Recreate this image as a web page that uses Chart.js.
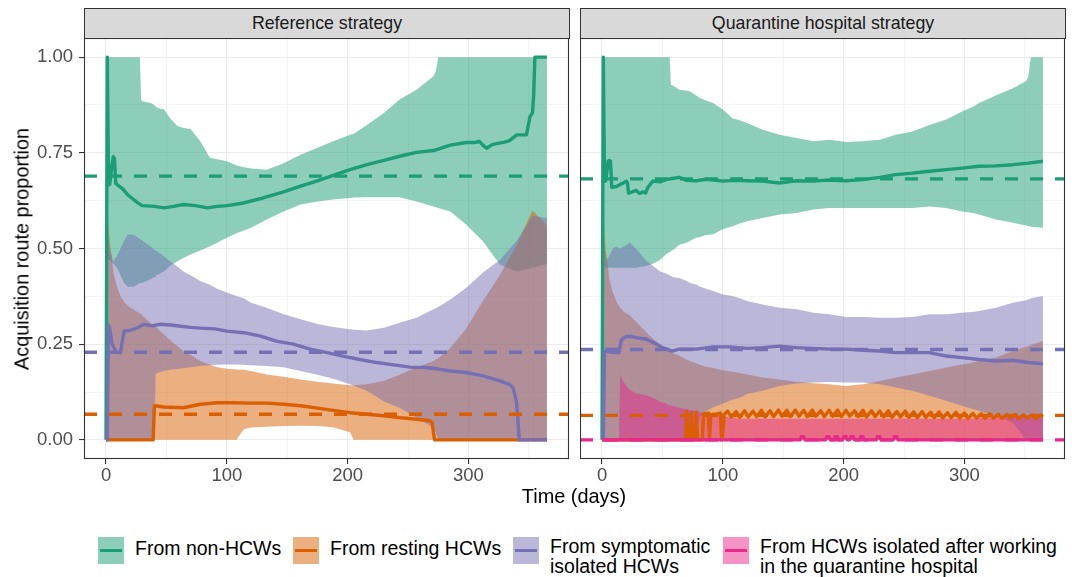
<!DOCTYPE html>
<html>
<head>
<meta charset="utf-8">
<script src="https://cdn.jsdelivr.net/npm/chart.js@4.4.1/dist/chart.umd.min.js"></script>
<style>
  body { margin: 0; background: #fff; font-family: "Liberation Sans", Arial, sans-serif; }
  #wrap { position: relative; width: 1076px; height: 577px; overflow: hidden; }
  canvas { position: absolute; }
  .strip { position: absolute; top: 8px; height: 31px; width: 486px; background: #d9d9d9; border: 1.1px solid #333;
           box-sizing: border-box; text-align: center; font-size: 17.8px; line-height: 28px; color: #1a1a1a; }
  .ttl { position: absolute; font-size: 19.9px; color: #000; white-space: nowrap; }
  .key { position: absolute; top: 537px; width: 26px; height: 27px; }
  .key i { position: absolute; left: 2px; right: 2px; top: 12px; height: 3px; }
  .lab { position: absolute; font-size: 19.5px; line-height: 20px; color: #000; white-space: nowrap; }
</style>
</head>
<body>
<div id="wrap">
  <div class="strip" style="left:84px">Reference strategy</div>
  <div class="strip" style="left:580px">Quarantine hospital strategy</div>
  <canvas id="refChart" width="570" height="460" style="left:0;top:38px"></canvas>
  <canvas id="qhChart" width="486" height="460" style="left:580px;top:38px"></canvas>
  <div class="ttl" style="left:22px;top:249px;transform:translate(-50%,-50%) rotate(-90deg)">Acquisition route proportion</div>
  <div class="ttl" style="left:574px;top:496px;transform:translate(-50%,-50%)">Time (days)</div>

  <div class="key" style="left:98px;background:rgba(27,158,119,0.5)"><i style="background:#1B9E77"></i></div>
  <div class="lab" style="left:135px;top:538px">From non-HCWs</div>
  <div class="key" style="left:293px;background:rgba(217,95,2,0.5)"><i style="background:#D95F02"></i></div>
  <div class="lab" style="left:330px;top:538px">From resting HCWs</div>
  <div class="key" style="left:513px;background:rgba(117,112,179,0.5)"><i style="background:#7570B3"></i></div>
  <div class="lab" style="left:550px;top:536px">From symptomatic<br>isolated HCWs</div>
  <div class="key" style="left:723px;background:rgba(231,41,138,0.5)"><i style="background:#E7298A"></i></div>
  <div class="lab" style="left:760px;top:536px">From HCWs isolated after working<br>in the quarantine hospital</div>
</div>

<script>
// ---- axes ----
const xMajor = [0, 100, 200, 300];
const xGrid = [0, 50, 100, 150, 200, 250, 300, 350];
const yMajor = [0, 0.25, 0.5, 0.75, 1];
const yGrid = [0, 0.125, 0.25, 0.375, 0.5, 0.625, 0.75, 0.875, 1];
const X_MIN = -18.25, X_MAX = 383.25;

// ---- Reference strategy: ribbons (2.5% / 97.5%) ----
const refBandDays = [1, 3, 6, 9, 12,   15, 18, 23, 28, 29,   30, 37, 40, 41, 42,   48, 53, 59, 64, 70,
                     78, 86, 92, 100, 108,   114, 120, 133, 147, 161,   175, 188, 202, 205, 216,
                     230, 243, 257, 271, 273,   275, 285, 298, 312, 326,   340, 353, 365];
const refNonHi = [1, 1, 1, 1, 1,   1, 1, 1, 1, 0.89,   0.885, 0.88, 0.875, 0.872, 0.868,   0.863, 0.84, 0.82, 0.815, 0.812,
                  0.78, 0.737, 0.733, 0.728, 0.717,   0.712, 0.709, 0.706, 0.723, 0.745,   0.763, 0.78, 0.797, 0.8, 0.823,
                  0.854, 0.889, 0.915, 0.95, 0.963,   1, 1, 1, 1, 1,   1, 1, 1];
const refNonLo = [0.47, 0.47, 0.46, 0.45, 0.43,   0.41, 0.40, 0.40, 0.41, 0.41,   0.41, 0.42, 0.425, 0.427, 0.43,   0.44, 0.455, 0.467, 0.475, 0.484,
                  0.495, 0.506, 0.515, 0.528, 0.54,   0.547, 0.554, 0.576, 0.597, 0.615,   0.623, 0.628, 0.632, 0.633, 0.634,
                  0.634, 0.634, 0.623, 0.61, 0.608,   0.606, 0.597, 0.563, 0.519, 0.458,   0.44, 0.45, 0.46];
const refRestHi = [0.6, 0.52, 0.44, 0.40, 0.375,   0.36, 0.35, 0.34, 0.33, 0.328,   0.325, 0.305, 0.298, 0.296, 0.293,   0.275, 0.26, 0.245, 0.232, 0.222,
                   0.206, 0.196, 0.19, 0.186, 0.184,   0.183, 0.18, 0.171, 0.165, 0.158,   0.152, 0.147, 0.143, 0.143, 0.145,
                   0.154, 0.17, 0.19, 0.206, 0.21,   0.213, 0.24, 0.29, 0.363, 0.43,   0.51, 0.6, 0.56];
const refRestLo = [0, 0, 0, 0, 0,   0, 0, 0, 0, 0,   0, 0, 0, 0, 0,   0, 0, 0, 0, 0,
                   0, 0, 0, 0, 0,   0.028, 0.032, 0.034, 0.036, 0.037,   0.036, 0.033, 0.02, 0, 0,
                   0, 0, 0, 0, 0,   0, 0, 0, 0, 0,   0, 0, 0];
const refSympHi = [0.55, 0.50, 0.467, 0.48, 0.50,   0.52, 0.537, 0.535, 0.525, 0.523,   0.52, 0.505, 0.497, 0.495, 0.493,   0.48, 0.467, 0.453, 0.44, 0.43,
                   0.415, 0.405, 0.395, 0.385, 0.376,   0.37, 0.358, 0.345, 0.328, 0.315,   0.303, 0.295, 0.289, 0.288, 0.286,
                   0.293, 0.306, 0.319, 0.341, 0.344,   0.347, 0.367, 0.397, 0.437, 0.47,   0.52, 0.585, 0.58];
const refSympLo = [0, 0, 0, 0, 0,   0, 0, 0, 0, 0,   0, 0, 0, 0.17, 0.175,   0.18, 0.183, 0.185, 0.187, 0.19,
                   0.193, 0.195, 0.196, 0.197, 0.197,   0.196, 0.195, 0.193, 0.19, 0.18,   0.17, 0.16, 0.145, 0.142, 0.128,
                   0.10, 0.084, 0.058, 0.032, 0.02,   0, 0, 0, 0, 0,   0, 0, 0];

// ---- Reference strategy: medians ----
const refNonDays = [0, 1, 2, 3, 5,   6, 7, 8, 10, 14,   18, 22, 26, 30, 40,   48, 56, 64, 74, 84,   92, 100, 114, 130, 147,
                    161, 175, 188, 202, 216,   230, 243, 257, 271, 285,   298, 306, 309, 312, 315,   320, 330, 334, 340, 348,   351, 353, 354, 355, 365];
const refNonLine = [0, 1, 0.70, 0.667, 0.72,   0.74, 0.735, 0.67, 0.665, 0.655,   0.64, 0.63, 0.62, 0.612, 0.61,   0.606, 0.61, 0.615, 0.612, 0.606,
                    0.61, 0.612, 0.619, 0.632, 0.648,   0.663, 0.677, 0.691, 0.706, 0.719,   0.73, 0.741, 0.751, 0.756, 0.77,
                    0.777, 0.777, 0.78, 0.77, 0.762,   0.772, 0.778, 0.782, 0.797, 0.797,   0.845, 0.854, 0.9, 1, 1];
const refRestDays = [0, 39, 40, 41, 48,   64, 78, 92, 106, 120,   133, 147, 161, 175, 188,   202, 216, 230, 243, 257,   268, 270, 271, 272, 365];
const refRestLine = [0, 0, 0.088, 0.089, 0.086,   0.084, 0.093, 0.097, 0.097, 0.096,   0.096, 0.093, 0.089, 0.083, 0.077,
                     0.071, 0.067, 0.063, 0.058, 0.054,   0.05, 0.045, 0.02, 0, 0];
const refSympDays = [0, 1, 2, 3, 5,   8, 10, 12, 13, 15,   20, 26, 31, 38, 45,   53, 62, 70, 78, 90,   100, 114, 128, 141, 155,
                     169, 183, 196, 210, 224,   238, 252, 265, 275, 285,   298, 312, 326, 334, 337,   339, 340, 341, 342, 365];
const refSympLine = [0, 0, 0.30, 0.29, 0.25,   0.232, 0.228, 0.228, 0.25, 0.284,   0.286, 0.293, 0.302, 0.298, 0.302,
                     0.30, 0.297, 0.294, 0.292, 0.29,   0.284, 0.28, 0.271, 0.258, 0.25,   0.237, 0.228, 0.219, 0.21, 0.202,
                     0.196, 0.19, 0.189, 0.185, 0.18,   0.176, 0.167, 0.154, 0.145, 0.135,   0.11, 0.093, 0.05, 0, 0];
const refOverall = { non: 0.689, symp: 0.229, rest: 0.067 };

// ---- Quarantine hospital strategy: ribbons ----
const qhBandDays = [1, 3, 6, 9, 12,   14, 15, 18, 23, 28,   37, 42, 48, 53, 56,   57, 59, 64, 70, 73,
                    78, 81, 86, 92, 100,   108, 114, 120, 133, 147,   161, 175, 188, 202, 216,
                    230, 243, 257, 271, 285,   298, 308, 312, 326, 340,   351, 353, 354, 355, 365];
const qhNonHi = [1, 1, 1, 1, 1,   1, 1, 1, 1, 1,   1, 1, 1, 1, 1,   0.928, 0.925, 0.915, 0.912, 0.91,
                 0.9, 0.893, 0.887, 0.88, 0.863,   0.84, 0.835, 0.828, 0.81, 0.797,   0.789, 0.78, 0.784, 0.778, 0.78,
                 0.784, 0.797, 0.806, 0.823, 0.837,   0.858, 0.872, 0.88, 0.9, 0.919,   0.937, 0.95, 0.98, 1, 1];
const qhNonLo = [0.46, 0.45, 0.45, 0.45, 0.45,   0.45, 0.45, 0.45, 0.45, 0.45,   0.455, 0.46, 0.47, 0.485, 0.49,   0.493, 0.497, 0.51, 0.515, 0.52,
                 0.528, 0.53, 0.535, 0.537, 0.55,   0.558, 0.565, 0.571, 0.58, 0.589,   0.593, 0.602, 0.606, 0.606, 0.606,
                 0.606, 0.606, 0.606, 0.61, 0.606,   0.597, 0.592, 0.589, 0.576, 0.567,   0.56, 0.558, 0.558, 0.557, 0.554];
const qhRestHi = [0.6, 0.5, 0.42, 0.385, 0.36,   0.35, 0.345, 0.335, 0.325, 0.31,   0.28, 0.265, 0.25, 0.238, 0.232,   0.23, 0.226, 0.22, 0.21, 0.205,
                  0.2, 0.196, 0.191, 0.188, 0.182,   0.178, 0.175, 0.171, 0.163, 0.158,   0.152, 0.148, 0.145, 0.141, 0.145,
                  0.154, 0.163, 0.171, 0.18, 0.189,   0.197, 0.203, 0.206, 0.215, 0.232,   0.243, 0.245, 0.246, 0.248, 0.258];
const qhRestLo = [0, 0, 0, 0, 0,   0, 0, 0, 0, 0,   0, 0, 0, 0, 0,   0, 0, 0, 0, 0,   0, 0, 0, 0, 0,
                  0, 0, 0, 0, 0,   0, 0, 0, 0, 0,   0, 0, 0, 0, 0,   0, 0, 0, 0, 0,   0, 0, 0, 0, 0];
const qhSympHi = [0.55, 0.47, 0.48, 0.50, 0.505,   0.50, 0.50, 0.505, 0.515, 0.50,   0.467, 0.455, 0.44, 0.435, 0.43,   0.428, 0.425, 0.423, 0.415, 0.41,
                  0.406, 0.40, 0.395, 0.389, 0.38,   0.376, 0.37, 0.363, 0.354, 0.345,   0.341, 0.332, 0.328, 0.321, 0.321,
                  0.319, 0.319, 0.321, 0.328, 0.328,   0.332, 0.335, 0.337, 0.345, 0.358,   0.365, 0.367, 0.368, 0.37, 0.376];
const qhSympLo = [0, 0, 0, 0, 0,   0, 0, 0, 0, 0,   0, 0, 0, 0, 0,   0, 0, 0, 0, 0,
                  0, 0.06, 0.075, 0.085, 0.095,   0.105, 0.11, 0.12, 0.128, 0.141,   0.147, 0.15, 0.151, 0.15, 0.15,
                  0.145, 0.137, 0.128, 0.115, 0.102,   0.089, 0.08, 0.076, 0.063, 0.045,   0, 0, 0, 0, 0];
const qhQuarHi = [0, 0, 0, 0, 0,   0, 0.17, 0.15, 0.13, 0.122,   0.115, 0.11, 0.1, 0.095, 0.09,   0.09, 0.088, 0.084, 0.08, 0.078,
                  0.076, 0.072, 0.068, 0.065, 0.062,   0.058, 0.055, 0.055, 0.055, 0.055,   0.055, 0.055, 0.055, 0.055, 0.055,
                  0.055, 0.055, 0.055, 0.055, 0.055,   0.055, 0.056, 0.058, 0.06, 0.06,   0.06, 0.06, 0.06, 0.06, 0.06];
const qhQuarLo = [0, 0, 0, 0, 0,   0, 0, 0, 0, 0,   0, 0, 0, 0, 0,   0, 0, 0, 0, 0,   0, 0, 0, 0, 0,
                  0, 0, 0, 0, 0,   0, 0, 0, 0, 0,   0, 0, 0, 0, 0,   0, 0, 0, 0, 0,   0, 0, 0, 0, 0];

// ---- Quarantine hospital strategy: medians ----
const qhNonDays = [0, 1, 2, 3, 4,   5, 6, 7, 8, 12,   15, 18, 20, 21, 22,   25, 28, 31, 34, 36,   38, 42, 48, 53, 58,
                   64, 70, 78, 86, 92,   100, 110, 120, 133, 147,   161, 175, 188, 202, 216,   230, 243, 257, 271, 285,
                   298, 312, 326, 340, 353,   365];
const qhNonLine = [0, 1, 0.69, 0.676, 0.70,   0.728, 0.73, 0.728, 0.66, 0.662,   0.667, 0.672, 0.676, 0.672, 0.645,
                   0.648, 0.652, 0.644, 0.648, 0.645,   0.66, 0.676, 0.674, 0.68, 0.683,   0.686, 0.678, 0.677, 0.681, 0.679,
                   0.676, 0.678, 0.677, 0.676, 0.671,   0.677, 0.676, 0.679, 0.677, 0.68,   0.686, 0.693, 0.697, 0.702, 0.706,
                   0.71, 0.715, 0.716, 0.719, 0.723,   0.728];
const qhRestDays = [0, 69, 70, 71, 73, 74, 75, 77, 78, 79, 83, 84, 88, 89, 90, 95, 98, 99, 100, 101,
                    104, 107, 111, 114, 118, 121, 125, 128, 132, 135, 139, 142, 146, 149, 153, 156, 160, 163,
                    167, 170, 174, 177, 181, 184, 188, 191, 195, 198, 202, 205, 209, 212, 216, 219, 223, 226,
                    230, 233, 237, 240, 244, 247, 251, 254, 258, 261, 265, 268, 272, 275, 279, 282, 286, 289,
                    293, 296, 300, 303, 307, 310, 314, 317, 321, 324, 328, 331, 335, 338, 342, 345, 349, 352,
                    356, 359, 363, 365];
const qhRestLine = [0, 0, 0.075, 0, 0, 0.07, 0, 0, 0.072, 0, 0, 0.068, 0.07, 0, 0.066, 0.068, 0.07, 0, 0.02, 0.066,
                    0.075, 0.06, 0.074, 0.059, 0.076, 0.06, 0.075, 0.061, 0.077, 0.06, 0.076, 0.061, 0.078, 0.062, 0.077, 0.061, 0.078, 0.062,
                    0.077, 0.061, 0.078, 0.062, 0.076, 0.061, 0.077, 0.062, 0.078, 0.061, 0.077, 0.062, 0.076, 0.061, 0.077, 0.06, 0.076, 0.061,
                    0.075, 0.06, 0.076, 0.059, 0.074, 0.06, 0.075, 0.059, 0.073, 0.058, 0.074, 0.059, 0.072, 0.058, 0.073, 0.057, 0.071, 0.058,
                    0.072, 0.057, 0.07, 0.056, 0.069, 0.057, 0.068, 0.056, 0.068, 0.057, 0.067, 0.056, 0.066, 0.057, 0.066, 0.056, 0.065, 0.057,
                    0.065, 0.056, 0.064, 0.06];
const qhSympDays = [0, 1, 2, 3, 6,   10, 14, 16, 20, 25,   30, 37, 44, 50, 58,   64, 78, 92, 106, 120,
                    133, 147, 161, 175, 188,   202, 216, 230, 243, 257,   271, 285, 298, 312, 326,   340, 353, 365];
const qhSympLine = [0, 0, 0.23, 0.232, 0.23,   0.228, 0.228, 0.262, 0.27, 0.27,   0.266, 0.263, 0.252, 0.241, 0.232,
                    0.237, 0.237, 0.243, 0.243, 0.239,   0.241, 0.245, 0.241, 0.239, 0.237,   0.237, 0.234, 0.232, 0.228, 0.228,
                    0.228, 0.219, 0.215, 0.21, 0.206,   0.208, 0.202, 0.199];
const qhQuarDays = [0, 164, 165, 167, 168,   185, 186, 188, 189, 192,   193, 195, 196, 199, 200,   202, 203, 205, 206, 208,
                    209, 213, 214, 216, 217,   227, 228, 230, 231, 241,   242, 244, 245, 365];
const qhQuarLine = [0, 0, 0.008, 0.008, 0,   0, 0.008, 0.008, 0, 0,   0.008, 0.008, 0, 0, 0.008,   0.008, 0, 0, 0.008, 0.008,
                    0, 0, 0.008, 0.008, 0,   0, 0.008, 0.008, 0, 0,   0.008, 0.008, 0, 0];
const qhOverall = { non: 0.682, symp: 0.236, rest: 0.064, quar: 0 };

const GREEN = '#1B9E77', ORANGE = '#D95F02', PURPLE = '#7570B3', PINK = '#E7298A';

Chart.defaults.font.family = '"Liberation Sans", Arial, sans-serif';

function fade(hex) {
  const n = parseInt(hex.slice(1), 16);
  return `rgba(${n >> 16},${(n >> 8) & 255},${n & 255},0.5)`;
}
function pts(days, vals) {
  return days.map((d, i) => ({ x: d, y: vals[i] }));
}

const panelBorder = {
  id: 'panelBorder',
  afterDatasetsDraw(chart) {
    const { ctx, chartArea: a } = chart;
    ctx.save();
    ctx.strokeStyle = '#333';
    ctx.lineWidth = 1.1;
    ctx.strokeRect(a.left + 0.5, a.top + 0.5, a.right - a.left - 1, a.bottom - a.top - 1);
    ctx.restore();
  }
};

function makePanel(id, bands, lines, hlines, yLabels) {
  const datasets = [];
  bands.forEach((b, k) => {
    datasets.push({ data: pts(b.days, b.lo), borderColor: 'rgba(0,0,0,0)', borderWidth: 0, pointRadius: 0, fill: false, order: 300 - 2 * k });
    datasets.push({ data: pts(b.days, b.hi), borderColor: 'rgba(0,0,0,0)', borderWidth: 0, pointRadius: 0,
                    fill: '-1', backgroundColor: fade(b.color), order: 299 - 2 * k });
  });
  lines.forEach((l, k) => {
    datasets.push({ data: pts(l.days, l.vals), borderColor: l.color, borderWidth: 3.4, borderJoinStyle: 'round',
                    pointRadius: 0, fill: false, order: 100 - k });
  });
  hlines.forEach((h, k) => {
    datasets.push({ data: [{ x: X_MIN, y: h.y }, { x: X_MAX, y: h.y }], borderColor: h.color, borderWidth: 3.4,
                    borderDash: [13, 12], pointRadius: 0, fill: false, order: 50 - k });
  });

  const zeroPad = s => { s.paddingLeft = 0; s.paddingRight = 0; s.paddingTop = 0; s.paddingBottom = 0; };

  return new Chart(document.getElementById(id), {
    type: 'line',
    data: { datasets },
    plugins: [panelBorder],
    options: {
      responsive: false, animation: false, devicePixelRatio: 1, events: [],
      layout: { padding: { right: 1 } },
      plugins: { legend: { display: false }, tooltip: { enabled: false } },
      scales: {
        x: {
          type: 'linear', min: X_MIN, max: X_MAX,
          afterBuildTicks: s => { s.ticks = xGrid.map(v => ({ value: v })); },
          afterFit: s => { s.height = 39; zeroPad(s); },
          border: { display: false },
          grid: {
            color: '#EBEBEB',
            lineWidth: c => xMajor.includes(c.tick && c.tick.value) ? 1.1 : 0.55,
            tickColor: c => xMajor.includes(c.tick && c.tick.value) ? '#333' : 'rgba(0,0,0,0)',
            tickLength: 5, tickWidth: 1.1
          },
          ticks: {
            autoSkip: false, maxRotation: 0, padding: 1, color: '#4D4D4D', font: { size: 18.5 },
            callback: v => xMajor.includes(v) ? String(v) : ''
          }
        },
        y: {
          min: -0.05, max: 1.05,
          afterBuildTicks: s => { s.ticks = yGrid.map(v => ({ value: v })); },
          afterFit: s => { s.width = yLabels ? 84 : 0; zeroPad(s); },
          border: { display: false },
          grid: {
            color: '#EBEBEB',
            lineWidth: c => yMajor.includes(c.tick && c.tick.value) ? 1.1 : 0.55,
            tickColor: c => yLabels && yMajor.includes(c.tick && c.tick.value) ? '#333' : 'rgba(0,0,0,0)',
            drawTicks: yLabels, tickLength: 5, tickWidth: 1.1
          },
          ticks: {
            display: yLabels, autoSkip: false, padding: 6, color: '#4D4D4D', font: { size: 18.5 },
            callback: v => yMajor.includes(v) ? v.toFixed(2) : ''
          }
        }
      }
    }
  });
}

makePanel('refChart',
  [
    { days: refBandDays, lo: refNonLo, hi: refNonHi, color: GREEN },
    { days: refBandDays, lo: refRestLo, hi: refRestHi, color: ORANGE },
    { days: refBandDays, lo: refSympLo, hi: refSympHi, color: PURPLE }
  ],
  [
    { days: refNonDays, vals: refNonLine, color: GREEN },
    { days: refRestDays, vals: refRestLine, color: ORANGE },
    { days: refSympDays, vals: refSympLine, color: PURPLE }
  ],
  [
    { y: refOverall.non, color: GREEN },
    { y: refOverall.rest, color: ORANGE },
    { y: refOverall.symp, color: PURPLE }
  ],
  true);

makePanel('qhChart',
  [
    { days: qhBandDays, lo: qhNonLo, hi: qhNonHi, color: GREEN },
    { days: qhBandDays, lo: qhRestLo, hi: qhRestHi, color: ORANGE },
    { days: qhBandDays, lo: qhSympLo, hi: qhSympHi, color: PURPLE },
    { days: qhBandDays, lo: qhQuarLo, hi: qhQuarHi, color: PINK }
  ],
  [
    { days: qhNonDays, vals: qhNonLine, color: GREEN },
    { days: qhRestDays, vals: qhRestLine, color: ORANGE },
    { days: qhSympDays, vals: qhSympLine, color: PURPLE },
    { days: qhQuarDays, vals: qhQuarLine, color: PINK }
  ],
  [
    { y: qhOverall.non, color: GREEN },
    { y: qhOverall.rest, color: ORANGE },
    { y: qhOverall.symp, color: PURPLE },
    { y: qhOverall.quar, color: PINK }
  ],
  false);
</script>
</body>
</html>
